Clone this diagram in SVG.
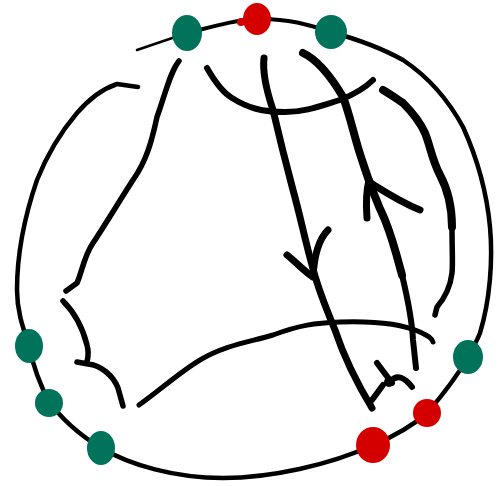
<svg xmlns="http://www.w3.org/2000/svg" width="504" height="486" viewBox="0 0 504 486">
<style>
.s{fill:none;stroke:#000;stroke-linecap:round;stroke-linejoin:round}
.g{fill:#00735A}
.r{fill:#D40000}
</style>
<rect width="504" height="486" fill="#fff"/>
<g id="connectors">
<path class="s" stroke-width="2.5" d="M137,50 L187,33"/>
<path class="s" stroke-width="4" d="M187,33 C215,26 235,20 257,19 C290,18 315,27 331,32"/>
<path class="s" stroke-width="4.5" d="M331,32 C360,40 385,50 403,60 C430,78 450,103 463,127 C478,160 487,195 490,227 C493,260 490,300 480,333 C476,343 472,350 468,357 C455,380 440,398 427,413 C410,428 390,438 373,445 C330,465 270,478 223,478 C175,478 130,465 101,448 C80,435 62,420 49,401 C40,385 33,365 29,346 C22,325 17,310 17,290 C17,250 25,215 37,180 C47,155 60,133 77,113 C90,98 105,88 117,84 L138,87"/>
<path class="s" stroke-width="5.5" d="M179,61 C170,72 165,95 157,117 C152,140 147,160 133,180 C120,200 105,225 93,243 C84,256 82,272 77,283 L66,291"/>
<path class="s" stroke-width="5.5" d="M63,301 C72,310 82,325 87,345 C89,352 88,358 87,362 M77,362 L88,364 C100,365 113,375 118,388 L123,406"/>
<path class="s" stroke-width="5" d="M139,405 C160,390 180,372 200,360 C225,345 250,342 273,335 C300,325 315,323 340,322 C370,321 400,323 420,332 C428,336 432,338 433,342"/>
<path class="s" stroke-width="6" d="M207,68 C215,82 222,92 232,98 C248,108 262,112 285,112 C305,112 320,106 340,100 C355,94 365,88 373,80"/>
<path class="s" stroke-width="7" d="M264,58 C262,75 268,95 273,110 C280,140 285,160 293,190 C300,215 305,240 312,265 C318,290 325,305 335,330 C345,360 358,385 372,408"/>
<path class="s" stroke-width="7" d="M287,255 C297,263 305,272 313,277 M328,230 C318,240 314,258 313,277"/>
<path class="s" stroke-width="8" d="M303,53 C318,60 333,80 343,97 C350,115 355,140 362,160 C370,185 378,205 385,220 C393,240 398,260 402,275"/>
<path class="s" stroke-width="6" d="M402,275 C408,300 412,320 413,340 L416,368"/>
<path class="s" stroke-width="7" d="M367,218 C366,205 366,192 369,180 M369,182 C385,192 400,202 420,210"/>
<path class="s" stroke-width="8" d="M383,90 C392,95 398,100 403,103 C412,112 420,122 425,133 C430,145 432,160 440,175 C448,190 452,205 452,227"/>
<path class="s" stroke-width="5.5" d="M452,227 C452,250 453,265 452,273 C450,290 443,300 437,307 L435,315"/>
<path class="s" stroke-width="6" d="M372,400 L383,385 M377,363 L392,383 M390,382 C397,373 405,378 412,387"/>
<circle cx="389" cy="382" r="5"/>
</g>
<g id="g1"><ellipse class="g" cx="187" cy="33" rx="15" ry="18"/></g>
<g id="r1"><ellipse class="r" cx="257" cy="19" rx="14" ry="16"/><circle class="r" cx="241" cy="22" r="4"/></g>
<g id="g2"><ellipse class="g" cx="331" cy="32" rx="16" ry="17"/></g>
<g id="g3"><ellipse class="g" cx="29" cy="346" rx="14" ry="17"/></g>
<g id="g4"><ellipse class="g" cx="49" cy="403" rx="14" ry="14"/></g>
<g id="g5"><ellipse class="g" cx="101" cy="448" rx="14" ry="17"/></g>
<g id="g6"><ellipse class="g" cx="468" cy="357" rx="15" ry="17"/></g>
<g id="r2"><ellipse class="r" cx="427" cy="413" rx="14" ry="14"/></g>
<g id="r3"><ellipse class="r" cx="373" cy="445" rx="17" ry="18"/></g>
</svg>
